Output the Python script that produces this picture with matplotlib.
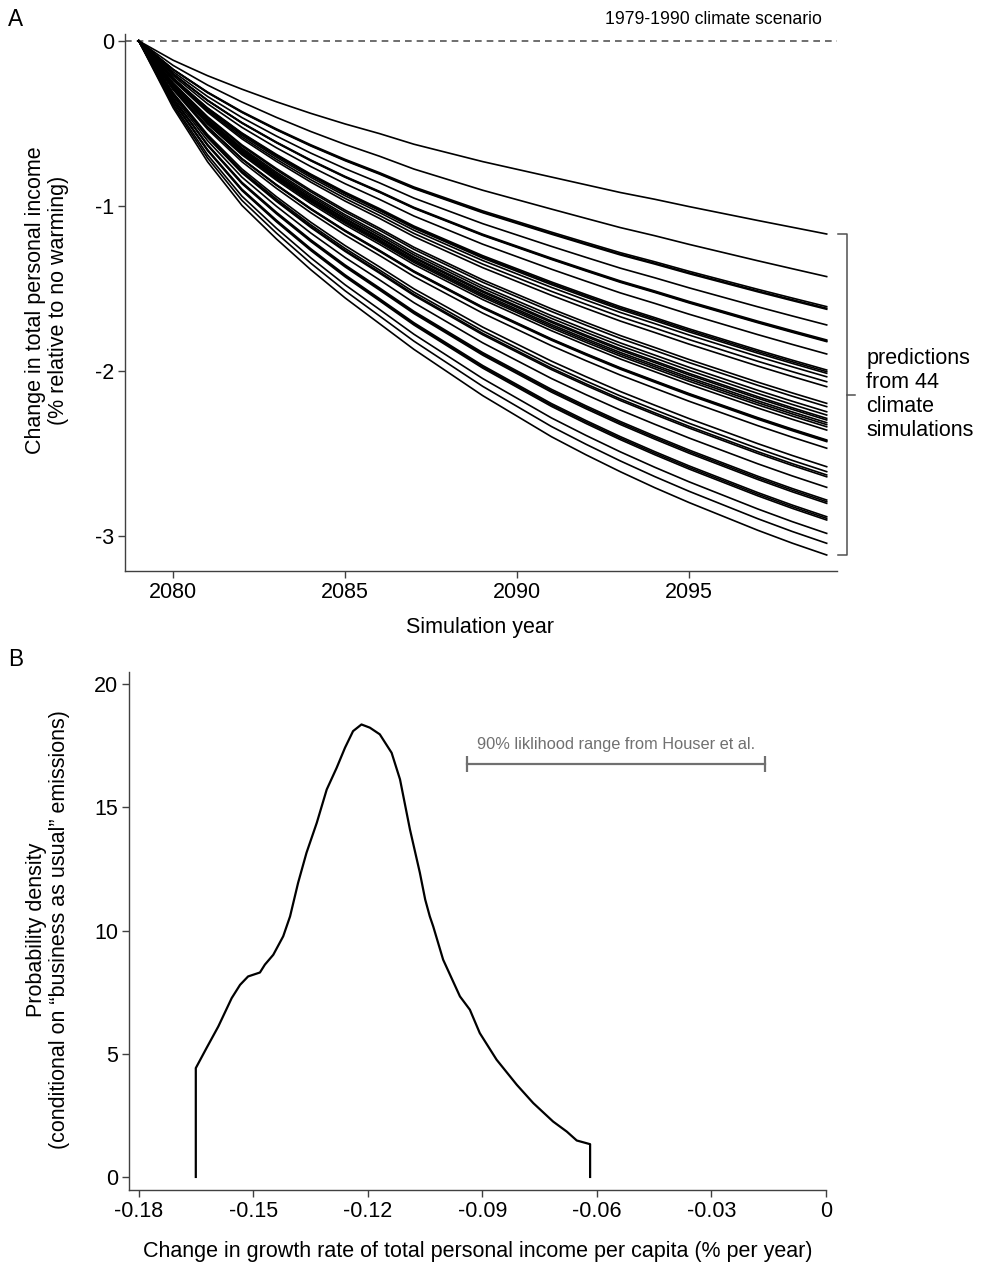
import matplotlib
matplotlib.use("Agg")
import matplotlib.pyplot as plt
from matplotlib import font_manager as fm
import numpy as np

# ---------------- data ----------------
YEARS = list(range(2079, 2100))

# end-of-period (2099) value of each of the 44 climate simulations (% change)
END_VALUES = [-1.170, -1.428, -1.610, -1.620, -1.626, -1.721, -1.812, -1.818,
              -1.822, -1.897, -1.994, -2.004, -2.014, -2.035, -2.065, -2.095,
              -2.196, -2.216, -2.247, -2.267, -2.287, -2.297, -2.313, -2.325,
              -2.338, -2.358, -2.418, -2.422, -2.428, -2.468, -2.580, -2.610,
              -2.630, -2.641, -2.705, -2.782, -2.792, -2.802, -2.883, -2.893,
              -2.903, -2.984, -3.044, -3.115]

# path shape (fraction of the 2099 value reached each year), read for the
# least-damaged and the most-damaged simulation
TOP_PROFILE = [0.0, 0.10, 0.18, 0.25, 0.315, 0.375, 0.43, 0.48, 0.535, 0.58,
               0.625, 0.665, 0.705, 0.745, 0.785, 0.82, 0.858, 0.894, 0.93,
               0.965, 1.0]
BOTTOM_PROFILE = [0.0, 0.13, 0.235, 0.32, 0.385, 0.445, 0.50, 0.55, 0.60,
                  0.645, 0.69, 0.73, 0.77, 0.805, 0.838, 0.869, 0.898, 0.925,
                  0.952, 0.977, 1.0]

A_YTICKS = [0, -1, -2, -3]
A_XTICKS = [2080, 2085, 2090, 2095]

# Panel B: probability density of change in growth rate
DENS_X = [-0.1651, -0.1651, -0.1623, -0.1592, -0.1557, -0.1535, -0.1514,
          -0.1483, -0.1470, -0.1448, -0.1422, -0.1404, -0.1383, -0.1361,
          -0.1334, -0.1308, -0.1282, -0.1260, -0.1239, -0.1217, -0.1195,
          -0.1169, -0.1138, -0.1116, -0.1090, -0.1064, -0.1050, -0.1038,
          -0.1029, -0.1003, -0.0959, -0.0933, -0.0907, -0.0863, -0.0810,
          -0.0767, -0.0715, -0.0679, -0.0653, -0.0618, -0.0618]
DENS_Y = [0.0, 4.42, 5.23, 6.11, 7.26, 7.80, 8.14, 8.30, 8.62, 9.02, 9.77,
          10.58, 11.94, 13.16, 14.38, 15.73, 16.61, 17.43, 18.10, 18.37,
          18.24, 17.97, 17.22, 16.14, 14.11, 12.35, 11.26, 10.58, 10.17,
          8.82, 7.33, 6.79, 5.84, 4.76, 3.74, 3.00, 2.25, 1.84, 1.48, 1.33,
          0.0]
HOUSER_RANGE = [-0.094, -0.016]
HOUSER_Y = 16.75

B_XTICKS = [-0.18, -0.15, -0.12, -0.09, -0.06, -0.03, 0.0]
B_XTICKLABELS = ["-0.18", "-0.15", "-0.12", "-0.09", "-0.06", "-0.03", "0"]
B_YTICKS = [0, 5, 10, 15, 20]

# ---------------- style ----------------
names = {f.name for f in fm.fontManager.ttflist}
if "Liberation Sans Narrow" in names:
    FONT = ["Liberation Sans Narrow", "DejaVu Sans"]
    FS = 19.0
else:
    FONT = ["Liberation Sans", "DejaVu Sans"]
    FS = 15.5
plt.rcParams["font.family"] = FONT
plt.rcParams["axes.unicode_minus"] = False

AXC = "#404040"
W, H = 982, 1264
fig = plt.figure(figsize=(W / 100, H / 100), dpi=100)


def fx(px):
    return px / W


def fy(py):
    return 1 - py / H


def style_axes(ax):
    for s in ("top", "right"):
        ax.spines[s].set_visible(False)
    for s in ("left", "bottom"):
        ax.spines[s].set_color(AXC)
        ax.spines[s].set_linewidth(1.0)
    ax.tick_params(direction="out", length=5, width=1.0, color=AXC,
                   labelsize=FS, labelcolor="black")
    ax.tick_params(axis="y", pad=3)
    ax.tick_params(axis="x", pad=3)


# ---------------- panel A ----------------
axA = fig.add_axes([fx(125), fy(571), fx(837) - fx(125), fy(34) - fy(571)])
style_axes(axA)
axA.set_xlim(2078.6, 2099.3)
axA.set_ylim(-3.212, 0.042)
axA.set_xticks(A_XTICKS)
axA.set_yticks(A_YTICKS)
axA.set_yticklabels([str(v) for v in A_YTICKS])

axA.axhline(0, color="#555555", lw=1.2, ls=(0, (4, 3)), zorder=1)

top_end = max(END_VALUES)
bot_end = min(END_VALUES)
top_p = np.array(TOP_PROFILE)
bot_p = np.array(BOTTOM_PROFILE)
for end in END_VALUES:
    w = (end - top_end) / (bot_end - top_end)
    prof = (1 - w) * top_p + w * bot_p
    axA.plot(YEARS, end * prof, color="black", lw=1.2, zorder=2,
             solid_joinstyle="round")

# bracket
bx = 2099.59
axA.plot([2099.33, bx, bx, 2099.33], [top_end, top_end, bot_end, bot_end],
         color="#505050", lw=1.1, clip_on=False)
mid = (top_end + bot_end) / 2
axA.plot([bx, 2099.83], [mid, mid], color="#505050", lw=1.1, clip_on=False)
axA.text(2100.15, mid, "predictions\nfrom 44\nclimate\nsimulations",
         ha="left", va="center", fontsize=FS, linespacing=1.2, clip_on=False)

fig.text(fx(822), fy(20), "1979-1990 climate scenario", ha="right",
         va="center", fontsize=FS * 0.82)
fig.text(fx(480), fy(628), "Simulation year", ha="center", va="center",
         fontsize=FS)
fig.text(fx(47), fy(300),
         "Change in total personal income\n(% relative to no warming)",
         rotation=90, ha="center", va="center", fontsize=FS,
         linespacing=1.08, multialignment="center")
fig.text(fx(8), fy(20), "A", ha="left", va="center", fontsize=FS * 1.05)

# ---------------- panel B ----------------
axB = fig.add_axes([fx(129), fy(1190), fx(826) - fx(129), fy(672) - fy(1190)])
style_axes(axB)
axB.set_xlim(-0.1826, 0.0)
axB.set_ylim(-0.53, 20.5)
axB.set_xticks(B_XTICKS)
axB.set_xticklabels(B_XTICKLABELS)
axB.set_yticks(B_YTICKS)
axB.set_yticklabels([str(v) for v in B_YTICKS])
for lab in axB.get_xticklabels():
    lab.set_clip_on(False)

axB.plot(DENS_X, DENS_Y, color="black", lw=1.6, solid_joinstyle="round")

axB.plot(HOUSER_RANGE, [HOUSER_Y, HOUSER_Y], color="#707070", lw=1.6,
         marker="|", ms=12, mew=1.6)
axB.text(sum(HOUSER_RANGE) / 2, HOUSER_Y + 0.8,
         "90% liklihood range from Houser et al.", ha="center",
         va="center", fontsize=11.8, color="#707070",
         family=["Liberation Sans", "DejaVu Sans"])

fig.text(fx(478), fy(1252),
         "Change in growth rate of total personal income per capita (% per year)",
         ha="center", va="center", fontsize=FS)
fig.text(fx(48), fy(930),
         "Probability density\n(conditional on \u201cbusiness as usual\u201d emissions)",
         rotation=90, ha="center", va="center", fontsize=FS,
         linespacing=1.15, multialignment="center")
fig.text(fx(8), fy(660), "B", ha="left", va="center", fontsize=FS * 1.05)

fig.savefig("out.png", dpi=100)
